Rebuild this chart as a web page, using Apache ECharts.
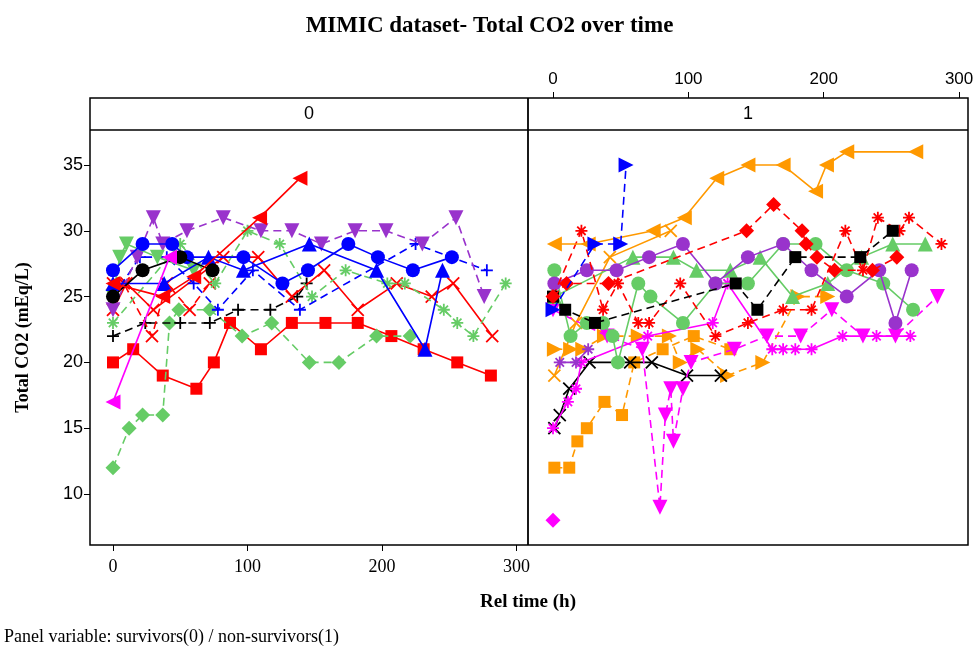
<!DOCTYPE html>
<html><head><meta charset="utf-8">
<script src="https://cdn.jsdelivr.net/npm/echarts@6/dist/echarts.min.js"></script>
<style>html,body{margin:0;padding:0;background:#fff}#c{width:979px;height:653px}</style>
</head><body><div id="c"></div><script>
// ---------- DATA ----------
const xTicks = [0, 100, 200, 300];
const yTicks = [10, 15, 20, 25, 30, 35];
const panelLabels = ['0', '1'];

// Panel 0 (survivors)
const p0_blueCircle = [[0,27],[22,29],[44,29],[55,28],[97,28],[126,26],[145,27],[175,29],[197,28],[223,27],[252,28]];
const p0_blueTri = [[0,26],[38,26],[71,28],[97,27],[146,29],[196,27],[232,21],[245,27]];
const p0_bluePlus = [[0,25],[20,28],[40,28],[60,26],[78,24],[104,27],[139,24],[225,29],[278,27]];
const p0_purpleTri = [[0,24],[18,28],[30,31],[37,29],[55,30],[82,31],[110,30],[133,30],[155,29],[180,30],[203,30],[230,29],[255,31],[276,25]];
const p0_greenTri = [[0,25],[5,28],[10,29],[33,28],[60,27]];
const p0_greenStar = [[0,23],[50,29],[76,26],[100,30],[124,29],[148,25],[173,27],[204,26],[217,26],[246,24],[256,23],[268,22],[292,26]];
const p0_greenDiamond = [[0,12],[12,15],[22,16],[37,16],[42,23],[49,24],[72,24],[96,22],[118,23],[146,20],[168,20],[196,22],[221,22]];
const p0_redSquare = [[0,20],[15,21],[37,19],[62,18],[75,20],[87,23],[110,21],[133,23],[158,23],[182,23],[207,22],[231,21],[256,20],[281,19]];
const p0_blackPlus = [[0,22],[24,23],[50,23],[72,23],[93,24],[117,24],[137,25],[144,26]];
const p0_blackCircle = [[0,25],[22,27],[50,28],[74,27]];
const p0_magentaTri = [[0,17],[42,28]];
const p0_redX = [[0,24],[10,26],[30,24],[82,28],[108,28],[133,25],[157,27],[182,24],[211,26],[237,25],[253,26],[282,22]];
const p0_redX2 = [[0,26],[8,26],[29,22],[40,26],[57,24],[72,26]];
const p0_redTri = [[0,26],[37,25],[60,26.5],[109,31],[139,34]];

// Panel 1 (non-survivors)
const p1_orangeLTri = [[1,29],[26,29],[74,30],[97,31],[121,34],[144,35],[170,35],[194,33],[202,35],[217,36],[268,36]];
const p1_blueRTri = [[0,24],[31,29],[50,29],[54,35]];
const p1_redDiamond = [[0,25],[10,26],[41,26],[143,30],[163,32],[184,30],[187,29],[195,28],[208,27],[236,27],[254,28]];
const p1_purpleCircle = [[1,26],[25,27],[47,27],[71,28],[96,29],[120,26],[144,28],[170,29],[191,27],[217,25],[241,27],[253,23],[265,27]];
const p1_greenCircle = [[1,27],[13,22],[25,23],[37,23],[44,22],[48,20],[63,26],[72,25],[96,23],[120,26],[144,26],[170,29],[194,29],[217,27],[244,26],[266,24]];
const p1_greenTri = [[1,25],[59,28],[89,28],[106,27],[131,27],[153,28],[177,25],[203,26],[228,28],[251,29],[275,29]];
const p1_blackSquare = [[0,25],[9,24],[31,23],[135,26],[151,24],[179,28],[227,28],[251,30]];
const p1_blackX = [[1,15],[5,16],[12,18],[27,20],[57,20],[73,20],[99,19],[124,19]];
const p1_orangeSquare = [[1,12],[12,12],[18,14],[25,15],[38,17],[51,16],[60,20],[81,21],[104,22],[131,21]];
const p1_orangeRTri = [[1,21],[13,21],[22,21],[38,22],[63,22],[86,22],[94,20],[107,21],[129,19],[155,20],[181,25],[203,25]];
const p1_orangeX = [[1,19],[17,23],[42,28],[87,30]];
const p1_redStar = [[0,25],[21,30],[37,24],[48,26],[63,23],[71,23],[94,26],[120,22],[144,23],[170,24],[191,24],[216,30],[229,27],[240,31],[256,30],[263,31],[287,29]];
const p1_magentaTri = [[0,24],[40,22],[66,21],[79,9],[83,16],[87,18],[89,14],[96,18],[102,20],[134,21],[158,22],[183,22],[206,24],[229,22],[253,22],[284,25]];
const p1_magentaStar = [[0,15],[11,17],[17,18],[21,20],[70,22],[118,23],[129,26],[162,21],[170,21],[179,21],[191,21],[214,22],[239,22],[264,22]];
const p1_magentaDiamond = [[0,8]];
const p1_purpleStar = [[5,20],[17,20],[26,21]];

// ---------- STYLE ----------
const C = {red:'#ff0000', blue:'#0000ff', purple:'#9933cc', green:'#66cc66', black:'#000000', magenta:'#ff00ff', orange:'#ff9900'};
const SYM = {
  circle:{s:'circle', r:0},
  up:{s:'triangle', r:0},
  down:{s:'triangle', r:180},
  left:{s:'triangle', r:90},
  right:{s:'triangle', r:-90},
  diamond:{s:'diamond', r:0},
  square:{s:'rect', r:0},
  x:{s:'path://M0,0L10,10M10,0L0,10', r:0, stroke:true},
  plus:{s:'path://M5,0L5,10M0,5L10,5', r:0, stroke:true},
  star:{s:'path://M5,0L5,10M0,5L10,5M1.5,1.5L8.5,8.5M8.5,1.5L1.5,8.5', r:0, stroke:true}
};
const specs = [
  [p0_redSquare,0,'red','solid','square'],
  [p0_greenDiamond,0,'green','dash','diamond'],
  [p0_blackPlus,0,'black','dash','plus'],
  [p0_redX2,0,'red','dash','x'],
  [p0_redX,0,'red','solid','x'],
  [p0_greenStar,0,'green','dash','star'],
  [p0_bluePlus,0,'blue','dash','plus'],
  [p0_purpleTri,0,'purple','dash','down'],
  [p0_greenTri,0,'green','solid','down'],
  [p0_blueTri,0,'blue','solid','up'],
  [p0_blueCircle,0,'blue','solid','circle'],
  [p0_blackCircle,0,'black','solid','circle'],
  [p0_redTri,0,'red','solid','left'],
  [p0_magentaTri,0,'magenta','solid','left'],

  [p1_orangeSquare,1,'orange','dash','square'],
  [p1_orangeRTri,1,'orange','dash','right'],
  [p1_orangeX,1,'orange','solid','x'],
  [p1_blackX,1,'black','solid','x'],
  [p1_magentaStar,1,'magenta','solid','star'],
  [p1_magentaTri,1,'magenta','dash','down'],
  [p1_purpleStar,1,'purple','solid','star'],
  [p1_greenCircle,1,'green','solid','circle'],
  [p1_greenTri,1,'green','solid','up'],
  [p1_purpleCircle,1,'purple','solid','circle'],
  [p1_redStar,1,'red','dash','star'],
  [p1_blackSquare,1,'black','dash','square'],
  [p1_redDiamond,1,'red','dash','diamond'],
  [p1_orangeLTri,1,'orange','solid','left'],
  [p1_blueRTri,1,'blue','dash','right'],
  [p1_magentaDiamond,1,'magenta','solid','diamond']
];

const series = specs.map(([data, panel, col, dash, sym], i) => {
  const c = C[col], m = SYM[sym];
  return {
    type:'line', xAxisIndex:panel, yAxisIndex:panel, data:data,
    symbol:m.s, symbolRotate:m.r, symbolSize: m.stroke ? 12 : (sym==='square'?12:(sym==='circle'?14:15)),
    showAllSymbol:true, animation:false, z: 2 + i*0.01,
    lineStyle:{color:c, width:1.6, type: dash==='dash' ? [8,5] : 'solid'},
    itemStyle: m.stroke ? {color:c, borderColor:c, borderWidth:1.8, opacity:1} : {color:c, borderWidth:0, opacity:1},
    emphasis:{disabled:true}
  };
});

const sans = 'Liberation Sans, Arial, sans-serif';
const serif = 'Liberation Serif, Times New Roman, serif';

const chart = echarts.init(document.getElementById('c'), null, {renderer:'canvas'});
chart.setOption({
  animation:false,
  backgroundColor:'#fff',
  title:{text:'MIMIC dataset- Total CO2 over time', left:'center', top:10,
    textStyle:{fontFamily:serif, fontWeight:'bold', fontSize:23, color:'#000'}},
  grid:[
    {left:90, top:130, width:438, height:415, show:false},
    {left:528, top:130, width:440, height:415, show:false}
  ],
  xAxis:[
    {gridIndex:0, type:'value', min:-17.1, max:308.6, position:'bottom',
     axisLine:{show:false, onZero:false}, splitLine:{show:false},
     axisTick:{show:true, length:6, customValues:xTicks, lineStyle:{color:'#000'}},
     axisLabel:{customValues:xTicks, fontFamily:serif, fontSize:18, color:'#000', margin:13},
     name:'Rel time (h)', nameLocation:'middle', nameGap:48,
     nameTextStyle:{fontFamily:serif, fontWeight:'bold', fontSize:19, color:'#000', padding:[0,0,0,438]}},
    {gridIndex:1, type:'value', min:-18.47, max:306.6, position:'top', offset:32,
     axisLine:{show:false, onZero:false}, splitLine:{show:false},
     axisTick:{show:true, length:6, customValues:xTicks, lineStyle:{color:'#000'}},
     axisLabel:{customValues:xTicks, fontFamily:sans, fontSize:17, color:'#000', margin:10}}
  ],
  yAxis:[
    {gridIndex:0, type:'value', min:6.125, max:37.66, position:'left',
     axisLine:{show:false, onZero:false}, splitLine:{show:false},
     axisTick:{show:true, length:6, customValues:yTicks, lineStyle:{color:'#000'}},
     axisLabel:{customValues:yTicks, fontFamily:sans, fontSize:18, color:'#000', margin:7},
     name:'Total CO2 (mEq/L)', nameLocation:'middle', nameGap:58, nameRotate:90,
     nameTextStyle:{fontFamily:serif, fontWeight:'bold', fontSize:18, color:'#000'}},
    {gridIndex:1, type:'value', min:6.125, max:37.66,
     axisLine:{show:false, onZero:false}, splitLine:{show:false}, axisTick:{show:false}, axisLabel:{show:false}}
  ],
  graphic:[
    {type:'rect', shape:{x:90, y:98, width:878, height:447}, style:{fill:'none', stroke:'#000', lineWidth:1.5}, z:100, silent:true},
    {type:'line', shape:{x1:90, y1:130, x2:968, y2:130}, style:{stroke:'#000', lineWidth:1.5}, z:100, silent:true},
    {type:'line', shape:{x1:528, y1:98, x2:528, y2:545}, style:{stroke:'#000', lineWidth:1.8}, z:100, silent:true},
    {type:'text', x:309, y:114, style:{text:panelLabels[0], font:'18px '+sans, fill:'#000', align:'center', verticalAlign:'middle'}, z:100},
    {type:'text', x:748, y:114, style:{text:panelLabels[1], font:'18px '+sans, fill:'#000', align:'center', verticalAlign:'middle'}, z:100},
    {type:'text', left:4, top:628, style:{text:'Panel variable: survivors(0) / non-survivors(1)', font:'18px '+serif, fill:'#000'}, z:100}
  ],
  series: series
});
</script></body></html>
